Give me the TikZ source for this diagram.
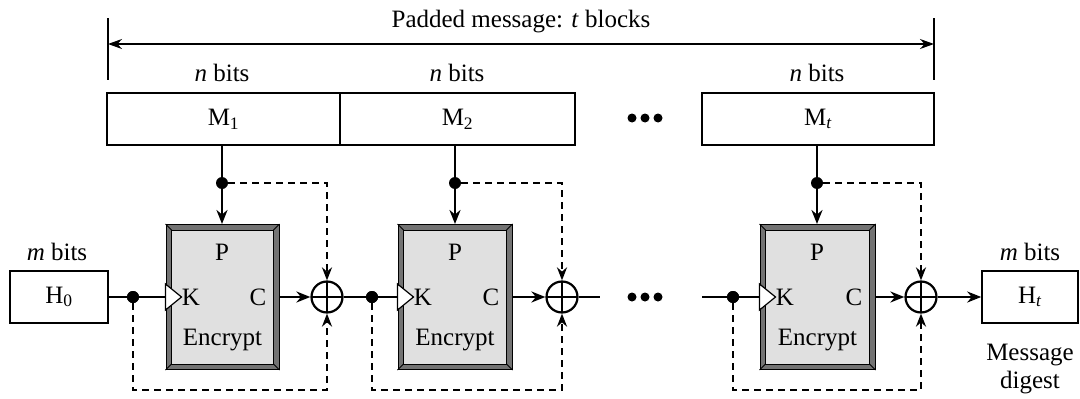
\documentclass[tikz,border=0pt]{standalone}
\usepackage{fontspec}
\setmainfont{Liberation Serif}
\usetikzlibrary{arrows.meta,calc}
\begin{document}
\begin{tikzpicture}[x=1pt,y=-1pt,
 lbl/.style={font=\fontsize{25}{29}\selectfont, inner sep=0},
 mbox/.style={draw, line width=1.6pt, minimum height=52, inner sep=0, font=\fontsize{25}{29}\selectfont},
 encbox/.style={draw=black, line width=1pt, fill=black!55, minimum width=113, minimum height=145, inner sep=0},
 ln/.style={line width=2.4pt},
 arr/.style={ln, -{Stealth[length=14pt,width=11pt]}},
 dsh/.style={line width=2.2pt, dash pattern=on 7pt off 5pt, -{Stealth[length=13pt,width=10pt]}},
 dot/.style={circle, fill=black, inner sep=0, minimum size=12},
 sdot/.style={circle, fill=black, inner sep=0, minimum size=9},
 xor/.style={circle, draw, line width=2.2pt, minimum size=31, inner sep=0, fill=white,
   path picture={\draw[line width=1.4pt] (path picture bounding box.north) -- (path picture bounding box.south)
     (path picture bounding box.west) -- (path picture bounding box.east);}},
]
\useasboundingbox (0,0) rectangle (1080,399);

% top dimension line
\node[lbl] (title) at (521,22) {Padded message: \textit{t} blocks};
\coordinate (aL) at (108,44);
\coordinate (aR) at (934,44);
\draw[line width=1.5pt, {Stealth[length=14pt,width=10pt]}-{Stealth[length=14pt,width=10pt]}] (aL) -- (aR);
\draw[line width=1.5pt] ([yshift=26pt]aL) -- ([yshift=-36pt]aL);
\draw[line width=1.5pt] ([yshift=26pt]aR) -- ([yshift=-36pt]aR);

% message blocks
\node[mbox, minimum width=233] (M1) at (223.5,119) {M\textsubscript{1}};
\node[mbox, minimum width=235] (M2) at (457.5,119) {M\textsubscript{2}};
\node[mbox, minimum width=232] (M3) at (818,119) {M\textsubscript{\textit{t}}};
\node[lbl] (n1) at (222,73) {\textit{n} bits};
\node[lbl] (n2) at (457,73) {\textit{n} bits};
\node[lbl] (n3) at (817,73) {\textit{n} bits};
\foreach \k in {-13,0,13} {
  \node[sdot] (ea\k) at (645+\k,118) {};
  \node[sdot] (eb\k) at (645+\k,297) {};
}

% H0 and Ht
\node[mbox, minimum width=98] (H0) at (59,297) {H\textsubscript{0}};
\node[mbox, minimum width=96] (Ht) at (1030,297) {H\textsubscript{\textit{t}}};
\node[lbl] (m1) at (57,252) {\textit{m} bits};
\node[lbl] (m2) at (1030,252) {\textit{m} bits};
\node[lbl] (md1) at (1030,355) {Message};
\node[lbl] (md2) at (1030,383) {digest};

% rounds
\foreach \i/\d/\l/\r/\v/\x in {1/133/166/279/222/327, 2/372/398/512/455/562, 3/733/760/875/817/921} {
  \pgfmathsetmacro{\cx}{(\l+\r)/2}
  \pgfmathsetmacro{\w}{\r-\l}
  \node[encbox, minimum width=\w] (E\i) at (\cx,297) {};
  \draw[fill=black!12, line width=0.8pt] ([xshift=6pt,yshift=-6pt]E\i.north west) rectangle ([xshift=-6pt,yshift=6pt]E\i.south east);
  \draw[line width=0.8pt] (E\i.north west) -- ([xshift=6pt,yshift=-6pt]E\i.north west)
    (E\i.north east) -- ([xshift=-6pt,yshift=-6pt]E\i.north east)
    (E\i.south west) -- ([xshift=6pt,yshift=6pt]E\i.south west)
    (E\i.south east) -- ([xshift=-6pt,yshift=6pt]E\i.south east);
  \node[lbl] (P\i) at (\v,252) {P};
  \node[lbl] (K\i) at (\l+25,297) {K};
  \node[lbl] (C\i) at (\r-21,297) {C};
  \node[lbl] (en\i) at (\cx,340) {Encrypt};
  \node[xor] (X\i) at (\x,297) {};
  \node[dot] (t\i) at (\v,183) {};
  \node[dot] (d\i) at (\d,297) {};
  \coordinate (b\i) at (\x,390);
  \draw[ln] (t\i |- M\i.south) -- (t\i);
  \draw[arr] (t\i) -- (t\i |- E\i.north);
  \draw[dsh] (t\i) -| (X\i.north);
  \draw[dsh] (d\i) |- (b\i) -- (X\i.south);
  \draw[arr] (E\i.east) -- (X\i.west);
}

% main line
\coordinate (c2) at (600,297);
\coordinate (c3) at (702,297);
\draw[ln] (H0.east) -- (E1.west);
\draw[ln] (X1.east) -- (E2.west);
\draw[ln] (X2.east) -- (c2);
\draw[ln] (c3) -- (E3.west);
\draw[arr] (X3.east) -- (Ht.west);
\foreach \i in {1,2,3} {
  \node[dot] at (d\i) {};
  \draw[line width=1.2pt, fill=white] ([yshift=13pt]E\i.west) -- ([xshift=16pt]E\i.west) -- ([yshift=-13pt]E\i.west) -- cycle;
}
\end{tikzpicture}
\end{document}
